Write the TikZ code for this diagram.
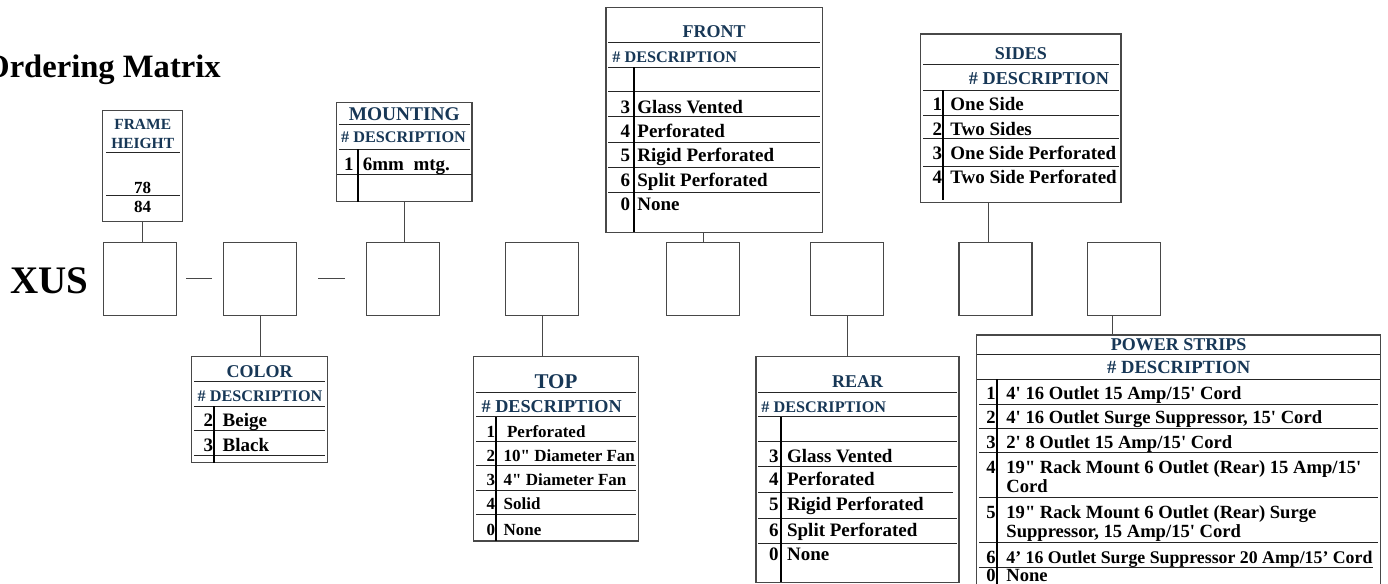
\documentclass[tikz,border=0pt]{standalone}
\usepackage{fontspec}
\setmainfont{Liberation Serif}[Ligatures=TeXOff]

\definecolor{headblue}{RGB}{23,55,86}
\definecolor{edgegray}{RGB}{72,72,72}

\tikzset{
  tab/.style={draw=edgegray, line width=0.7pt, inner sep=0pt},
  slot/.style={draw=edgegray, line width=0.7pt, minimum width=36.5pt, minimum height=36.5pt, inner sep=0pt},
  rowline/.style={line width=0.5pt, black!85},
  colline/.style={line width=1pt, black},
  link/.style={line width=0.5pt, edgegray},
  head/.style={font=\fontsize{9}{10}\selectfont\bfseries, text=headblue, inner sep=0pt},
  descs/.style={font=\fontsize{8.1}{9}\selectfont\bfseries, text=headblue, inner sep=0pt},
  descl/.style={font=\fontsize{9.1}{10}\selectfont\bfseries, text=headblue, inner sep=0pt},
  entry/.style={font=\fontsize{9.5}{10}\selectfont\bfseries, inner sep=0pt, anchor=base west},
  num/.style={font=\fontsize{9.5}{10}\selectfont\bfseries, inner sep=0pt, anchor=base east},
  topsize/.style={font=\fontsize{8.5}{9}\selectfont\bfseries},
  powersize/.style={font=\fontsize{9.3}{10}\selectfont\bfseries}
}

\begin{document}
\begin{tikzpicture}[x=0.5pt, y=-0.5pt]
  \useasboundingbox (0,0) rectangle (1388,584);

  \node[anchor=base west, font=\fontsize{16.3}{18}\selectfont\bfseries, inner sep=0pt] (title) at (-16,77) {Ordering Matrix};
  \node[anchor=base west, font=\fontsize{19.5}{22}\selectfont\bfseries, inner sep=0pt] (xus) at (10,293) {XUS};

  % code boxes
  \node[slot] (b1) at (139.7,278.7) {};
  \node[slot] (b2) at (260,278.7) {};
  \node[slot] (b3) at (403,278.7) {};
  \node[slot] (b4) at (542.2,278.7) {};
  \node[slot] (b5) at (703,278.7) {};
  \node[slot] (b6) at (847,278.7) {};
  \node[slot] (b7) at (995.3,278.7) {};
  \node[slot] (b8) at (1123.8,278.7) {};

  \coordinate (d1a) at (186,278.5);
  \coordinate (d1b) at (212,278.5);
  \coordinate (d2a) at (318,278.5);
  \coordinate (d2b) at (345,278.5);
  \draw[link] (d1a) -- (d1b);
  \draw[link] (d2a) -- (d2b);

  % frame height
  \node[tab, minimum width=40pt, minimum height=55.5pt] (frame) at (142.7,166.2) {};
  \draw[rowline] (106,152.7) -- (180,152.7);
  \draw[rowline] (106,195) -- (180,195);
  \node[head, align=center, font=\fontsize{7.75}{9.5}\selectfont\bfseries] (frameh) at (142.7,133.5) {FRAME\\HEIGHT};
  \node[num, anchor=base, font=\fontsize{8.5}{10}\selectfont\bfseries] (f78) at (142.7,193) {78};
  \node[num, anchor=base, font=\fontsize{8.5}{10}\selectfont\bfseries] (f84) at (142.7,212.5) {84};

  % mounting
  \node[tab, minimum width=67.7pt, minimum height=49.5pt] (mount) at (404.3,152.2) {};
  \draw[rowline] (339,124.3) -- (470,124.3);
  \draw[rowline] (339,149) -- (470,149);
  \draw[rowline] (337,174.3) -- (472,174.3);
  \draw[colline] (357.7,149) -- (357.7,201.7);
  \node[head, font=\fontsize{9.7}{10}\selectfont\bfseries] (mounth) at (404.3,114) {MOUNTING};
  \node[descs] (mountd) at (403.5,137) {\# DESCRIPTION};
  \node[num] (m1n) at (354,170.5) {1};
  \node[entry] (m1) at (362.5,170.5) {6mm\ \ mtg.};

  % front
  \node[tab, minimum width=108.2pt, minimum height=112.5pt] (front) at (714.2,119.8) {};
  \draw[rowline] (608,42.3) -- (820,42.3);
  \draw[rowline] (608,67.3) -- (820,67.3);
  \draw[rowline] (608,91.7) -- (820,91.7);
  \draw[rowline] (608,116) -- (820,116);
  \draw[rowline] (608,142.7) -- (820,142.7);
  \draw[rowline] (608,167.7) -- (820,167.7);
  \draw[rowline] (608,192.7) -- (820,192.7);
  \draw[colline] (633.7,67.3) -- (633.7,232.3);
  \node[head] (fronth) at (714.2,31.7) {FRONT};
  \node[descs, anchor=west] (frontd) at (612,57) {\# DESCRIPTION};
  \node[num] (f3n) at (630.5,113) {3};
  \node[entry] (f3) at (637,113) {Glass Vented};
  \node[num] (f4n) at (630.5,137) {4};
  \node[entry] (f4) at (637,137) {Perforated};
  \node[num] (f5n) at (630.5,161) {5};
  \node[entry] (f5) at (637,161) {Rigid Perforated};
  \node[num] (f6n) at (630.5,186) {6};
  \node[entry] (f6) at (637,186) {Split Perforated};
  \node[num] (f0n) at (630.5,210) {0};
  \node[entry] (f0) at (637,210) {None};

  % sides
  \node[tab, minimum width=100.2pt, minimum height=84.3pt] (sides) at (1020.8,118.3) {};
  \draw[rowline] (923,64.3) -- (1119,64.3);
  \draw[rowline] (923,90) -- (1119,90);
  \draw[rowline] (923,115) -- (1119,115);
  \draw[rowline] (923,138.3) -- (1119,138.3);
  \draw[rowline] (923,166.7) -- (1119,166.7);
  \draw[colline] (942.7,90) -- (942.7,200);
  \node[head] (sidesh) at (1020.8,54) {SIDES};
  \node[descl] (sidesd) at (1039,79) {\# DESCRIPTION};
  \node[num] (s1n) at (942.5,110.3) {1};
  \node[entry] (s1) at (950,110.3) {One Side};
  \node[num] (s2n) at (942.5,135.3) {2};
  \node[entry] (s2) at (950,135.3) {Two Sides};
  \node[num] (s3n) at (942.5,159) {3};
  \node[entry] (s3) at (950,159) {One Side Perforated};
  \node[num] (s4n) at (942.5,183) {4};
  \node[entry] (s4) at (950,183) {Two Side Perforated};

  % color
  \node[tab, minimum width=68pt, minimum height=53pt] (color) at (259.7,409.7) {};
  \draw[rowline] (194,381.7) -- (325,381.7);
  \draw[rowline] (194,406) -- (325,406);
  \draw[rowline] (194,430) -- (325,430);
  \draw[rowline] (194,455) -- (325,455);
  \draw[colline] (214,406) -- (214,462.7);
  \node[head] (colorh) at (259.7,371.7) {COLOR};
  \node[descs] (colord) at (260,396.7) {\# DESCRIPTION};
  \node[num] (c2n) at (213.5,426) {2};
  \node[entry] (c2) at (222.3,426) {Beige};
  \node[num] (c3n) at (213.5,451.3) {3};
  \node[entry] (c3) at (222.3,451.3) {Black};

  % top
  \node[tab, minimum width=82.3pt, minimum height=92.2pt] (top) at (556,448.8) {};
  \draw[rowline] (476,392.3) -- (636,392.3);
  \draw[rowline] (476,416.7) -- (636,416.7);
  \draw[rowline] (476,441) -- (636,441);
  \draw[rowline] (476,465.7) -- (636,465.7);
  \draw[rowline] (476,490) -- (636,490);
  \draw[rowline] (476,514.3) -- (636,514.3);
  \draw[colline] (496,416.7) -- (496,541);
  \node[head, font=\fontsize{10.5}{11}\selectfont\bfseries] (toph) at (556,381.7) {TOP};
  \node[descl] (topd) at (551.7,406.7) {\# DESCRIPTION};
  \node[num, topsize] (t1n) at (495.5,437.5) {1};
  \node[entry, topsize] (t1) at (506.7,437.5) {Perforated};
  \node[num, topsize] (t2n) at (495.5,461.8) {2};
  \node[entry, topsize] (t2) at (503.3,461.8) {10" Diameter Fan};
  \node[num, topsize] (t3n) at (495.5,485.8) {3};
  \node[entry, topsize] (t3) at (503.3,485.8) {4" Diameter Fan};
  \node[num, topsize] (t4n) at (495.5,509.8) {4};
  \node[entry, topsize] (t4) at (503.3,509.8) {Solid};
  \node[num, topsize] (t0n) at (495.5,535.8) {0};
  \node[entry, topsize] (t0) at (503.3,535.8) {None};

  % rear
  \node[tab, minimum width=101.5pt, minimum height=112.8pt] (rear) at (857.5,469.5) {};
  \draw[rowline] (758,392.3) -- (957,392.3);
  \draw[rowline] (758,416.7) -- (957,416.7);
  \draw[rowline] (758,441) -- (957,441);
  \draw[rowline] (758,466) -- (957,466);
  \draw[rowline] (758,492.3) -- (953,492.3);
  \draw[rowline] (758,518.3) -- (957,518.3);
  \draw[rowline] (758,543.3) -- (957,543.3);
  \draw[colline] (781,416.7) -- (781,582.3);
  \node[head] (rearh) at (857.5,381.7) {REAR};
  \node[descs, anchor=west] (reard) at (761,407) {\# DESCRIPTION};
  \node[num] (r3n) at (779,462.3) {3};
  \node[entry] (r3) at (786.7,462.3) {Glass Vented};
  \node[num] (r4n) at (779,485.6) {4};
  \node[entry] (r4) at (786.7,485.6) {Perforated};
  \node[num] (r5n) at (779,510.6) {5};
  \node[entry] (r5) at (786.7,510.6) {Rigid Perforated};
  \node[num] (r6n) at (779,536.3) {6};
  \node[entry] (r6) at (786.7,536.3) {Split Perforated};
  \node[num] (r0n) at (779,560.3) {0};
  \node[entry] (r0) at (786.7,560.3) {None};

  % power strips
  \node[tab, minimum width=202pt, minimum height=127.5pt] (power) at (1178.7,462.5) {};
  \draw[rowline] (977,354) -- (1380,354);
  \draw[rowline] (977,379) -- (1380,379);
  \draw[rowline] (979,404) -- (1378,404);
  \draw[rowline] (979,428.3) -- (1378,428.3);
  \draw[rowline] (979,452.7) -- (1378,452.7);
  \draw[rowline] (979,497.3) -- (1378,497.3);
  \draw[rowline] (979,542.7) -- (1378,542.7);
  \draw[rowline] (979,567.3) -- (1373,567.3);
  \draw[colline] (997.3,379) -- (997.3,590);
  \node[head] (powerh) at (1178.7,345) {POWER STRIPS};
  \node[descl, font=\fontsize{9.3}{10}\selectfont\bfseries] (powerd) at (1178.7,367.5) {\# DESCRIPTION};
  \node[num, powersize] (p1n) at (996,399.5) {1};
  \node[entry, powersize] (p1) at (1006,399.5) {4' 16 Outlet 15 Amp/15' Cord};
  \node[num, powersize] (p2n) at (996,423.5) {2};
  \node[entry, powersize] (p2) at (1006,423.5) {4' 16 Outlet Surge Suppressor, 15' Cord};
  \node[num, powersize] (p3n) at (996,448.5) {3};
  \node[entry, powersize] (p3) at (1006,448.5) {2' 8 Outlet 15 Amp/15' Cord};
  \node[num, powersize] (p4n) at (996,473) {4};
  \node[entry, powersize] (p4) at (1006,473) {19" Rack Mount 6 Outlet (Rear) 15 Amp/15'};
  \node[entry, powersize] (p4b) at (1006,492) {Cord};
  \node[num, powersize] (p5n) at (996,518) {5};
  \node[entry, powersize] (p5) at (1006,518) {19" Rack Mount 6 Outlet (Rear) Surge};
  \node[entry, powersize] (p5b) at (1006,537) {Suppressor, 15 Amp/15' Cord};
  \node[num, powersize] (p6n) at (996,563) {6};
  \node[entry, font=\fontsize{8.9}{10}\selectfont\bfseries] (p6) at (1006,563) {4’ 16 Outlet Surge Suppressor 20 Amp/15’ Cord};
  \node[num, powersize] (p0n) at (996,581) {0};
  \node[entry, powersize] (p0) at (1006,581) {None};

  % connectors
  \coordinate (sidesfoot) at (988,202.7);
  \coordinate (powertop) at (1112.3,335);
  \draw[link] (frame.south) -- (frame.south |- b1.north);
  \draw[link] (mount.south) -- (mount.south |- b3.north);
  \draw[link] (b5.north) -- (b5.north |- front.south);
  \draw[link] (sidesfoot) -- (sidesfoot |- b7.north);
  \draw[link] (b2.south) -- (b2.south |- color.north);
  \draw[link] (b4.south) -- (b4.south |- top.north);
  \draw[link] (b6.south) -- (b6.south |- rear.north);
  \draw[link] (powertop) -- (powertop |- b8.south);

\end{tikzpicture}
\end{document}
